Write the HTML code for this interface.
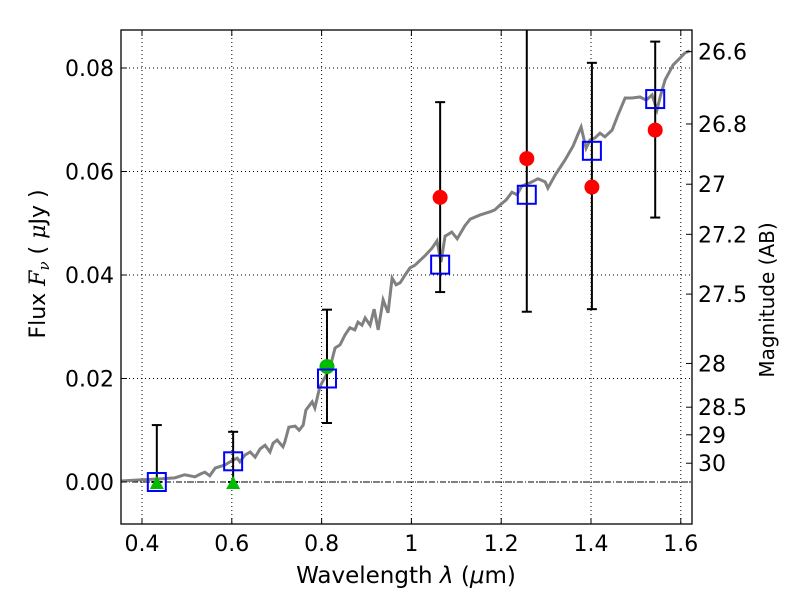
<!DOCTYPE html>
<html><head><meta charset="utf-8"><style>
body{margin:0;background:#fff}
svg text{font-family:"DejaVu Sans","Liberation Sans",sans-serif;fill:#000}
</style></head><body>
<svg id="chart" width="800" height="600" xmlns="http://www.w3.org/2000/svg" style="position:absolute;left:0;top:0">
<rect width="800" height="600" fill="#fff"/>
<g id="grid"></g><g id="marks"></g><g id="axes"></g>
</svg>
<script>
const xTicks=[0.4,0.6,0.8,1,1.2,1.4,1.6];
const xTickLabels=["0.4","0.6","0.8","1","1.2","1.4","1.6"];
const yTicks=[0,0.02,0.04,0.06,0.08];
const yTickLabels=["0.00","0.02","0.04","0.06","0.08"];
const magTicks=[26.6,26.8,27,27.2,27.5,28,28.5,29,30];
const magTickLabels=["26.6","26.8","27","27.2","27.5","28","28.5","29","30"];
const specWave=[0.353,0.396,0.440,0.473,0.495,0.518,0.529,0.540,0.551,0.563,0.585,0.600,0.612,0.618,0.629,0.641,0.652,0.663,0.674,0.685,0.692,0.701,0.714,0.718,0.727,0.741,0.750,0.759,0.765,0.779,0.785,0.796,0.808,0.819,0.830,0.841,0.852,0.863,0.874,0.881,0.890,0.897,0.908,0.917,0.926,0.937,0.948,0.957,0.966,0.975,0.986,0.997,1.008,1.030,1.046,1.057,1.066,1.075,1.090,1.102,1.119,1.131,1.153,1.175,1.186,1.197,1.211,1.224,1.235,1.246,1.264,1.282,1.298,1.304,1.320,1.342,1.360,1.371,1.378,1.389,1.398,1.409,1.420,1.431,1.447,1.460,1.476,1.491,1.509,1.523,1.536,1.547,1.554,1.565,1.583,1.598,1.609,1.620];
const specFlux=[.0002,.0004,.0006,.0008,.0014,.001,.0015,.0019,.0012,.0027,.0033,.0041,.0046,.0039,.0052,.0058,.0048,.0064,.0071,.0058,.0075,.0081,.0068,.0077,.0106,.0108,.0100,.0110,.0139,.0155,.0143,.0184,.0203,.0222,.0259,.0265,.0284,.0298,.0294,.0309,.0303,.0317,.0303,.0334,.0294,.0352,.0327,.0394,.0381,.0385,.0400,.0414,.0419,.0437,.0452,.0466,.0425,.0475,.0483,.0470,.0495,.0508,.0516,.0522,.0526,.0535,.0545,.0560,.0555,.0572,.0578,.0586,.0580,.0568,.0593,.0622,.0649,.0672,.0686,.0645,.0661,.0665,.0674,.0667,.0680,.0709,.0742,.0742,.0744,.0738,.0748,.0719,.0744,.0777,.0806,.0819,.0829,.0833];
const modelWave=[0.433,0.603,0.812,1.064,1.257,1.402,1.543];
const modelFlux=[0.0,0.004,0.020,0.042,0.0555,0.064,0.074];
const errWave=[0.433,0.603,0.812,1.064,1.257,1.402,1.543];
const errLow=[0,0,0.0114,0.0367,0.0329,0.0334,0.0511];
const errHigh=[0.011,0.0097,0.0333,0.0734,0.1,0.081,0.0851];
const detWave=[1.064,1.257,1.402,1.543];
const detFlux=[0.055,0.0625,0.057,0.068];
const greenDotWave=[0.812];
const greenDotFlux=[0.0223];
const limitWave=[0.433,0.603];
const limitFlux=[0,0];

const L=121,R=692,T=30,B=524;
const X=w=>142+(w-0.4)*449;
const Y=f=>482-f*5175;
const NS="http://www.w3.org/2000/svg";
function mk(tag,attrs,parent,text){const e=document.createElementNS(NS,tag);for(const k in attrs)e.setAttribute(k,attrs[k]);if(text!==undefined)e.textContent=text;parent.appendChild(e);return e;}
const grid=document.getElementById('grid'),marks=document.getElementById('marks'),axes=document.getElementById('axes');

xTicks.forEach((t,i)=>{
 const g=mk('line',{x1:X(t),x2:X(t),y1:T,y2:B,stroke:'#000','stroke-width':1,'stroke-dasharray':'1,3'},grid);
 
 
 mk('line',{x1:X(t),x2:X(t),y1:B,y2:B-6,stroke:'#000'},axes);
 mk('line',{x1:X(t),x2:X(t),y1:T,y2:T+6,stroke:'#000'},axes);
 const tx=mk('text',{x:X(t),y:B+27,'text-anchor':'middle','font-size':22},axes,xTickLabels[i]);
 
 
});
yTicks.forEach((t,i)=>{
 const g=mk('line',{x1:L,x2:R,y1:Y(t),y2:Y(t),stroke:'#000','stroke-width':1,'stroke-dasharray':'1,3'},grid);
 
 
 mk('line',{x1:L,x2:L+6,y1:Y(t),y2:Y(t),stroke:'#000'},axes);
 const tx=mk('text',{x:L-7,y:Y(t)+8,'text-anchor':'end','font-size':22},axes,yTickLabels[i]);
 
 
});
magTicks.forEach((m,i)=>{
 const f=Math.pow(10,(23.9-m)/2.5);
 mk('line',{x1:R,x2:R-6,y1:Y(f),y2:Y(f),stroke:'#000'},axes);
 const tx=mk('text',{x:R+6,y:Y(f)+8,'font-size':22},axes,magTickLabels[i]);
 
 
});
const z=mk('line',{x1:L,x2:R,y1:Y(0),y2:Y(0),stroke:'#000','stroke-width':1,'stroke-dasharray':'6,2,1,2'},grid);



const sp=mk('polyline',{points:specWave.map((w,i)=>X(w)+','+Y(specFlux[i])).join(' '),fill:'none',stroke:'#808080','stroke-width':3},marks);



errWave.forEach((w,i)=>{
 const x=X(w),y1=Math.max(Y(errHigh[i]),T),y2=Y(errLow[i]);
 const e=mk('line',{x1:x,x2:x,y1:y1,y2:y2,stroke:'#000','stroke-width':2},marks);
 
 
 if(Y(errHigh[i])>T)mk('line',{x1:x-5,x2:x+5,y1:y1,y2:y1,stroke:'#000','stroke-width':2},marks);
 mk('line',{x1:x-5,x2:x+5,y1:y2,y2:y2,stroke:'#000','stroke-width':2},marks);
});
limitWave.forEach((w,i)=>{
 const x=X(w),y=Y(limitFlux[i]);
 const p=mk('polygon',{points:`${x},${y-6} ${x-7},${y+7} ${x+7},${y+7}`,fill:'#00bb00'},marks);
 
 
});
greenDotWave.forEach((w,i)=>{
 const c=mk('circle',{cx:X(w),cy:Y(greenDotFlux[i]),r:7.5,fill:'#00bb00'},marks);
 
 
});
detWave.forEach((w,i)=>{
 const c=mk('circle',{cx:X(w),cy:Y(detFlux[i]),r:7.5,fill:'#ff0000'},marks);
 
 
});
modelWave.forEach((w,i)=>{
 const r=mk('rect',{x:X(w)-9,y:Y(modelFlux[i])-9,width:18,height:18,fill:'none',stroke:'#0000ff','stroke-width':2},marks);
 
 
});
const frame=mk('rect',{x:L,y:T,width:R-L,height:B-T,fill:'none',stroke:'#000','stroke-width':1.3},axes);


</script>
<svg style="position:absolute;left:0;top:0" width="800" height="600">
<text x="406" y="583" text-anchor="middle" font-size="23">Wavelength  <tspan font-style="italic">λ</tspan> (<tspan font-style="italic">μ</tspan>m)</text>
<text transform="translate(45,264) rotate(-90)" text-anchor="middle" font-size="22">Flux  <tspan font-style="italic" font-family="DejaVu Serif">F<tspan font-size="15" dy="4">ν</tspan></tspan><tspan dy="-4">  (  </tspan><tspan font-style="italic" font-family="DejaVu Serif">μ</tspan>Jy )</text>
<text transform="translate(774,300) rotate(-90)" text-anchor="middle" font-size="20">Magnitude (AB)</text>
</svg>
</body></html>
